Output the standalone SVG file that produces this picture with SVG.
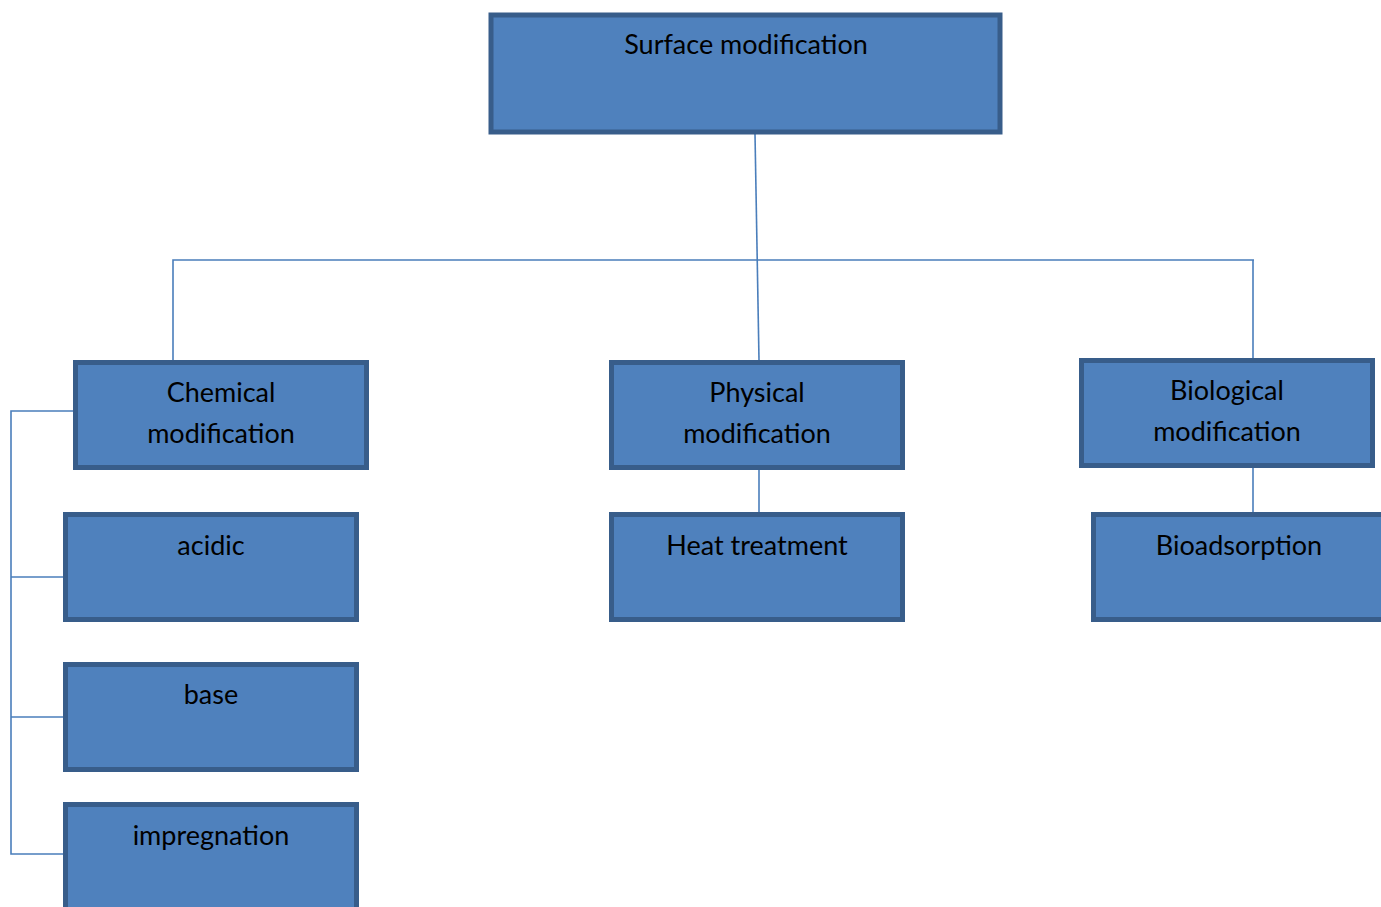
<svg xmlns="http://www.w3.org/2000/svg" width="1381" height="907" viewBox="0 0 1381 907">
<style>
.box{fill:#4F81BD;stroke:#385D8A;stroke-width:5}
.t{font-family:Lato,"Open Sans",sans-serif;font-size:27px;fill:#000;text-anchor:middle}
.c{fill:none;stroke:#4A7EBB;stroke-width:1.6}
</style>
<rect width="1381" height="907" fill="#fff"/>
<g id="connectors">
<path class="c" d="M755 134 L759 360"/>
<path class="c" d="M173 360 L173 260 L1254 260"/>
<path class="c" d="M1253 260 L1253 358"/>
<path class="c" d="M759 469 L759 512"/>
<path class="c" d="M1253 467 L1253 512"/>
<path class="c" d="M73 411 L11 411 L11 854 L63 854"/>
<path class="c" d="M11 577 L63 577"/>
<path class="c" d="M11 717 L63 717"/>
</g>
<g id="surface"><rect class="box" x="491" y="15" width="509" height="117"/><text class="t" x="746" y="54">Surface modification</text></g>
<g id="chemical"><rect class="box" x="75.5" y="362.5" width="291" height="105"/><text class="t" x="221" y="402">Chemical</text><text class="t" x="221" y="443">modification</text></g>
<g id="acidic"><rect class="box" x="65.5" y="514.5" width="291" height="105"/><text class="t" x="211" y="555">acidic</text></g>
<g id="base"><rect class="box" x="65.5" y="664.5" width="291" height="105"/><text class="t" x="211" y="704">base</text></g>
<g id="impregnation"><rect class="box" x="65.5" y="804.5" width="291" height="120"/><text class="t" x="211" y="845">impregnation</text></g>
<g id="physical"><rect class="box" x="611.5" y="362.5" width="291" height="105"/><text class="t" x="757" y="402">Physical</text><text class="t" x="757" y="443">modification</text></g>
<g id="heat"><rect class="box" x="611.5" y="514.5" width="291" height="105"/><text class="t" x="757" y="555">Heat treatment</text></g>
<g id="biological"><rect class="box" x="1081.5" y="360.5" width="291" height="105"/><text class="t" x="1227" y="400">Biological</text><text class="t" x="1227" y="441">modification</text></g>
<g id="bioadsorption"><rect class="box" x="1093.5" y="514.5" width="300" height="105"/><text class="t" x="1239" y="555">Bioadsorption</text></g>
</svg>
